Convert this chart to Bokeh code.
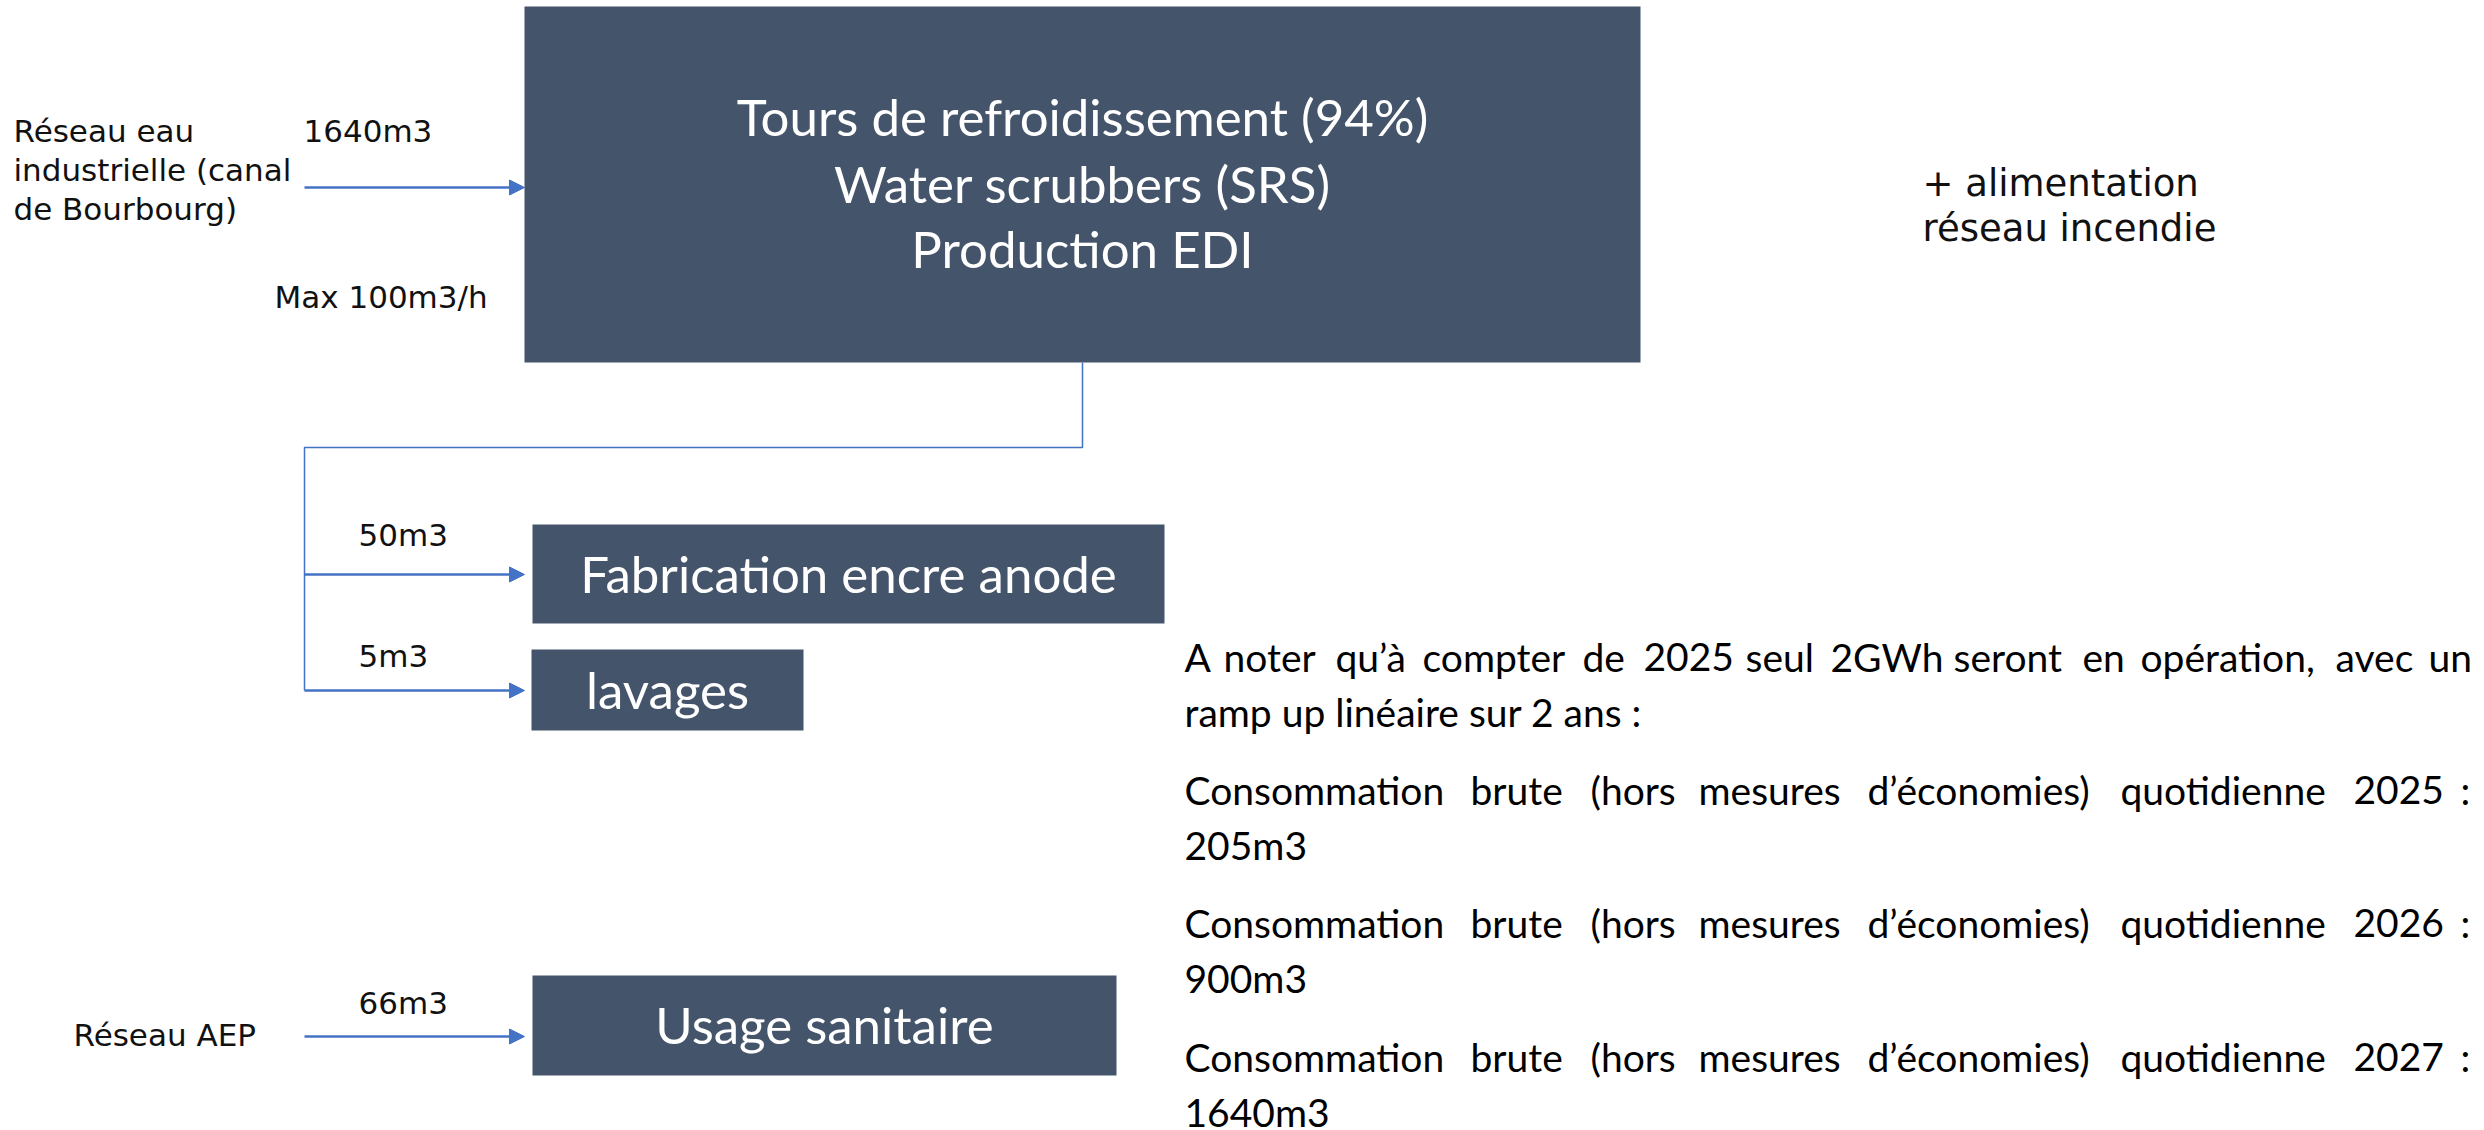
from bokeh.plotting import figure
from bokeh.models import Range1d, Arrow, NormalHead
from bokeh.core.properties import value
from bokeh.embed import file_html
from bokeh.resources import INLINE

# ---------------- data ----------------
main_lines = ["Tours de refroidissement (94%)", "Water scrubbers (SRS)", "Production EDI"]
sub_boxes = ["Fabrication encre anode", "lavages", "Usage sanitaire"]
sources = ["Réseau eau", "industrielle (canal", "de Bourbourg)"]
source_aep = "Réseau AEP"
flow_main = 1640
flow_sub = [50, 5]
flow_aep = 66
max_rate = "Max 100m3/h"
extra_note = ["+ alimentation", "réseau incendie"]
note_line1 = "A noter qu’à compter de 2025 seul 2GWh seront en opération, avec un"
note_line2 = "ramp up linéaire sur 2 ans :"
years = [2025, 2026, 2027]
conso = [205, 900, 1640]
conso_text = "Consommation brute (hors mesures d’économies) quotidienne {} :"

# ---------------- layout (reference pixel coords) ----------------
BOX = "#44546A"
BLUE = "#4472C4"
CAL = value("Lato")
MONT = value("DejaVu Sans")
W, H = 2480, 1128

p = figure(width=W, height=H, x_range=Range1d(0, W), y_range=Range1d(H, 0),
           output_backend="svg", toolbar_location=None, min_border=0,
           x_axis_type=None, y_axis_type=None)
p.grid.visible = False
p.outline_line_color = None
p.background_fill_color = "white"
p.border_fill_color = "white"


def shift(ys, d):
    return [y - d for y in ys]


# boxes
box_l = [524, 532, 531, 532]
box_r = [1640, 1164, 803, 1116]
box_t = [6, 524, 649, 975]
box_b = [362, 623, 730, 1075]
p.quad(left=box_l, right=box_r, top=box_t, bottom=box_b, fill_color=BOX, line_color=None)

# main box text
D_BIG = 19
p.text(x=[1082] * 3, y=shift([135, 202, 267], D_BIG), text=main_lines, text_font=CAL,
       text_font_size="51px", text_color="white", text_align="center",
       text_baseline="alphabetic")
# sub box texts
p.text(x=[848, 667, 824], y=shift([592, 708, 1043], D_BIG), text=sub_boxes, text_font=CAL,
       text_font_size="51px", text_color="white", text_align="center",
       text_baseline="alphabetic")

# connector lines (thin)
p.line(x=[1082, 1082, 304, 304], y=[362, 447, 447, 690], line_color=BLUE, line_width=1.5)

# arrows
arrow_y = [187, 574, 690, 1036]
for ay in arrow_y:
    p.add_layout(Arrow(end=NormalHead(size=15, fill_color=BLUE, line_color=BLUE, line_width=1),
                       x_start=304, y_start=ay, x_end=524, y_end=ay,
                       line_color=BLUE, line_width=2.5))

# left labels (Montserrat-like)
LBL = "31px"
D_LBL = 13
p.text(x=[13, 13, 13], y=shift([143, 182, 221], D_LBL), text=sources, text_font=MONT,
       text_font_size=LBL, text_color="#111111", text_baseline="alphabetic")
flow_labels = [f"{flow_main}m3"] + [f"{v}m3" for v in flow_sub] + [f"{flow_aep}m3"]
p.text(x=[303, 358, 358, 358], y=shift([143, 547, 668, 1015], D_LBL), text=flow_labels,
       text_font=MONT, text_font_size=LBL, text_color="#111111", text_baseline="alphabetic")
p.text(x=[274, 73], y=shift([309, 1047], D_LBL), text=[max_rate, source_aep], text_font=MONT,
       text_font_size=LBL, text_color="#111111", text_baseline="alphabetic")

# right top note
p.text(x=[1922, 1922], y=shift([195, 240], 12), text=extra_note, text_font=MONT,
       text_font_size="37px", text_color="#111111", text_baseline="alphabetic")

# right paragraph, justified lines placed word by word
NOTE_SIZE = "39px"
D_NOTE = 16
l1_x = [1184, 1223, 1335, 1422, 1582, 1643, 1745, 1830, 1953, 2082, 2140, 2335, 2428]
words1 = note_line1.split(" ")
p.text(x=l1_x, y=[672 - D_NOTE] * len(words1), text=words1, text_font=CAL,
       text_font_size=NOTE_SIZE, text_color="black", text_baseline="alphabetic")
p.text(x=[1184], y=[727 - D_NOTE], text=[note_line2], text_font=CAL, text_font_size=NOTE_SIZE,
       text_color="black", text_baseline="alphabetic")

conso_x = [1184, 1470, 1590, 1698, 1867, 2120, 2353, 2460]
conso_base = [805, 938, 1072]
for yr, val, yb in zip(years, conso, conso_base):
    ws = conso_text.format(yr).split(" ")
    p.text(x=conso_x, y=[yb - D_NOTE] * len(ws), text=ws, text_font=CAL,
           text_font_size=NOTE_SIZE, text_color="black", text_baseline="alphabetic")
    p.text(x=[1184], y=[yb + 55 - D_NOTE], text=[f"{val}m3"], text_font=CAL,
           text_font_size=NOTE_SIZE, text_color="black", text_baseline="alphabetic")

open("out.html", "w").write(file_html(p, INLINE))
